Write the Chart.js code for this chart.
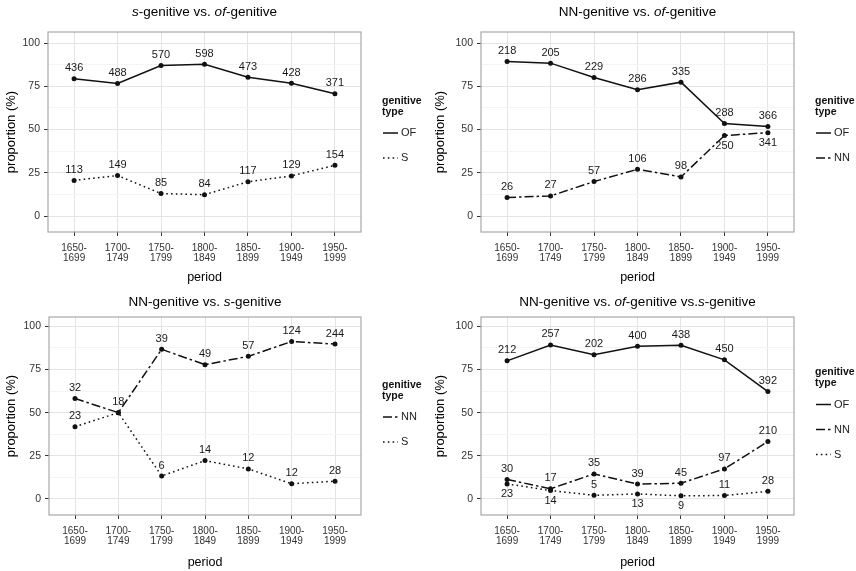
<!DOCTYPE html>
<html>
<head>
<meta charset="utf-8">
<script src="https://cdn.jsdelivr.net/npm/chart.js@4"></script>
<style>
html, body { margin: 0; padding: 0; background: #fff; }
#wrap { position: relative; width: 856px; height: 571px; overflow: hidden; }
canvas { position: absolute; }
</style>
</head>
<body>
<div id="wrap">
  <canvas id="c1" width="428" height="285" style="left:0;top:0"></canvas>
  <canvas id="c2" width="428" height="285" style="left:428px;top:0"></canvas>
  <canvas id="c3" width="428" height="286" style="left:0;top:285px"></canvas>
  <canvas id="c4" width="428" height="286" style="left:428px;top:285px"></canvas>
</div>
<script>
// periods on the x axis (two lines each)
const periods = [['1650-', '1699'], ['1700-', '1749'], ['1750-', '1799'], ['1800-', '1849'],
                 ['1850-', '1899'], ['1900-', '1949'], ['1950-', '1999']];
const yTicks = [0, 12.5, 25, 37.5, 50, 62.5, 75, 87.5, 100];

// panel 1: s-genitive vs. of-genitive (proportion %, and counts)
const p1Of = [79.4, 76.6, 87.0, 87.7, 80.2, 76.8, 70.7];
const p1S = [20.6, 23.4, 13.0, 12.3, 19.8, 23.2, 29.3];
const p1OfN = [436, 488, 570, 598, 473, 428, 371];
const p1SN = [113, 149, 85, 84, 117, 129, 154];

// panel 2: NN-genitive vs. of-genitive
const p2Of = [89.3, 88.4, 80.1, 73.0, 77.4, 53.5, 51.8];
const p2Nn = [10.7, 11.6, 19.9, 27.0, 22.6, 46.5, 48.2];
const p2OfN = [218, 205, 229, 286, 335, 288, 366];
const p2NnN = [26, 27, 57, 106, 98, 250, 341];
const p2NnSide = ['up', 'up', 'up', 'up', 'up', 'down', 'down'];

// panel 3: NN-genitive vs. s-genitive
const p3Nn = [58.2, 50.0, 86.7, 77.8, 82.6, 91.2, 89.7];
const p3S = [41.8, 50.0, 13.3, 22.2, 17.4, 8.8, 10.3];
const p3NnN = [32, 18, 39, 49, 57, 124, 244];
const p3SN = [23, 18, 6, 14, 12, 12, 28];
const p3SSide = ['up', 'none', 'up', 'up', 'up', 'up', 'up'];

// panel 4: NN vs. of vs. s
const p4Of = [80.0, 89.2, 83.5, 88.5, 89.0, 80.6, 62.2];
const p4Nn = [11.3, 5.9, 14.5, 8.6, 9.1, 17.4, 33.3];
const p4S = [8.7, 4.9, 2.1, 2.9, 1.8, 2.0, 4.4];
const p4OfN = [212, 257, 202, 400, 438, 450, 392];
const p4NnN = [30, 17, 35, 39, 45, 97, 210];
const p4SN = [23, 14, 5, 13, 9, 11, 28];
const p4SSide = ['down', 'down', 'up', 'down', 'down', 'up', 'up'];

const FONT = '"Liberation Sans", Arial, Helvetica, sans-serif';
const INK = '#111';
const DASH = { OF: [], S: [1.6, 3.2], NN: [9, 3, 2.5, 3] };

function series(type, vals, counts, side) {
  return {
    label: type,
    data: vals.map((v, i) => ({ x: i, y: v })),
    counts: counts,
    labelSide: side,
    borderColor: INK,
    backgroundColor: INK,
    borderWidth: 1.5,
    borderDash: DASH[type],
    pointRadius: 2.5,
    pointBorderWidth: 0,
    pointBackgroundColor: INK,
    tension: 0
  };
}

const decor = {
  id: 'decor',
  afterDraw(chart) {
    const opt = chart.options.plugins.decor;
    const ctx = chart.ctx;
    const a = chart.chartArea;
    ctx.save();

    // panel border
    ctx.strokeStyle = '#a9a9a9';
    ctx.lineWidth = 1.2;
    ctx.setLineDash([]);
    ctx.strokeRect(a.left, a.top, a.right - a.left, a.bottom - a.top);

    // count labels at the points
    ctx.font = '11px ' + FONT;
    ctx.fillStyle = '#1a1a1a';
    ctx.textAlign = 'center';
    ctx.textBaseline = 'middle';
    chart.data.datasets.forEach((ds, i) => {
      chart.getDatasetMeta(i).data.forEach((pt, j) => {
        const side = ds.labelSide ? ds.labelSide[j] : 'up';
        if (side === 'none') return;
        ctx.fillText(String(ds.counts[j]), pt.x, pt.y + (side === 'down' ? 10.5 : -10.5));
      });
    });

    // title with italic parts
    ctx.fillStyle = '#000';
    ctx.textAlign = 'left';
    let w = 0;
    opt.title.forEach(s => { ctx.font = (s[1] ? 'italic ' : '') + '13.5px ' + FONT; w += ctx.measureText(s[0]).width; });
    let x = (a.left + a.right) / 2 - w / 2;
    opt.title.forEach(s => {
      ctx.font = (s[1] ? 'italic ' : '') + '13.5px ' + FONT;
      ctx.fillText(s[0], x, opt.titleY);
      x += ctx.measureText(s[0]).width;
    });

    // legend
    const dsl = chart.data.datasets;
    const L = a.right + 21;
    const first = (a.top + a.bottom) / 2 + 13.5 - (dsl.length - 1) * 12.5;
    ctx.font = 'bold 10.5px ' + FONT;
    ctx.fillStyle = '#111';
    ctx.fillText('genitive', L, first - 32);
    ctx.fillText('type', L, first - 21);
    ctx.font = '11px ' + FONT;
    dsl.forEach((ds, i) => {
      const y = first + i * 25;
      ctx.strokeStyle = INK;
      ctx.lineWidth = 1.5;
      ctx.setLineDash(ds.borderDash);
      ctx.beginPath();
      ctx.moveTo(L + 1, y);
      ctx.lineTo(L + 16, y);
      ctx.stroke();
      ctx.fillStyle = '#222';
      ctx.fillText(ds.label, L + 19, y);
    });
    ctx.restore();
  }
};

function makePanel(id, title, datasets, g) {
  const canvas = document.getElementById(id);
  const H = canvas.height;
  return new Chart(canvas, {
    type: 'line',
    data: { datasets: datasets },
    plugins: [decor],
    options: {
      responsive: false,
      animation: false,
      devicePixelRatio: 1,
      layout: { padding: { left: 0, top: g.top, right: 428 - g.right, bottom: 0 } },
      plugins: {
        legend: { display: false },
        tooltip: { enabled: false },
        decor: { title: title, titleY: g.titleY }
      },
      scales: {
        x: {
          type: 'linear',
          min: -0.6,
          max: 6.6,
          afterBuildTicks: s => { s.ticks = periods.map((p, i) => ({ value: i })); },
          afterFit: s => { s.height = H - g.bottom; },
          border: { display: false },
          grid: { color: '#e4e4e4', lineWidth: 1, tickLength: 4, tickColor: '#333', tickWidth: 1 },
          ticks: {
            autoSkip: false, maxRotation: 0, padding: 7.5, color: '#333',
            font: { family: FONT, size: 10, lineHeight: 1.0 },
            callback: v => periods[v]
          },
          title: { display: true, text: 'period', color: '#000', font: { family: FONT, size: 12.5 }, padding: { top: 0, bottom: g.xTitlePad } }
        },
        y: {
          type: 'linear',
          min: g.yMin,
          max: g.yMax,
          afterBuildTicks: s => { s.ticks = yTicks.map(v => ({ value: v })); },
          afterFit: s => { s.width = g.left; },
          border: { display: false },
          grid: {
            color: c => (c.tick && c.tick.value % 25 === 0) ? '#e4e4e4' : '#f4f4f4',
            lineWidth: 1,
            tickLength: 4,
            tickWidth: 1,
            tickColor: c => (c.tick && c.tick.value % 25 === 0) ? '#333' : 'rgba(0,0,0,0)'
          },
          ticks: {
            padding: 4, color: '#333',
            font: { family: FONT, size: 10.5 },
            callback: v => (v % 25 === 0 ? String(v) : '')
          },
          title: { display: true, text: 'proportion (%)', color: '#000', font: { family: FONT, size: 13 }, padding: { top: g.yTitlePad, bottom: 0 } }
        }
      }
    }
  });
}

const topGeo = { top: 32, bottom: 232, yMin: -9.25, yMax: 106.4, titleY: 12, xTitlePad: 0 };
const botGeo = { top: 32, bottom: 230, yMin: -9.3, yMax: 105.4, titleY: 17, xTitlePad: 1 };

makePanel('c1', [['s', true], ['-genitive vs. ', false], ['of', true], ['-genitive', false]],
  [series('OF', p1Of, p1OfN), series('S', p1S, p1SN)],
  Object.assign({ left: 48, right: 361, yTitlePad: 4 }, topGeo));

makePanel('c2', [['NN-genitive vs. ', false], ['of', true], ['-genitive', false]],
  [series('OF', p2Of, p2OfN), series('NN', p2Nn, p2NnN, p2NnSide)],
  Object.assign({ left: 53, right: 366, yTitlePad: 5 }, topGeo));

makePanel('c3', [['NN-genitive vs. ', false], ['s', true], ['-genitive', false]],
  [series('NN', p3Nn, p3NnN), series('S', p3S, p3SN, p3SSide)],
  Object.assign({ left: 49, right: 361, yTitlePad: 4 }, botGeo));

makePanel('c4', [['NN-genitive vs. ', false], ['of', true], ['-genitive vs.', false], ['s', true], ['-genitive', false]],
  [series('OF', p4Of, p4OfN), series('NN', p4Nn, p4NnN), series('S', p4S, p4SN, p4SSide)],
  Object.assign({ left: 53, right: 366, yTitlePad: 5 }, botGeo));
</script>
</body>
</html>
